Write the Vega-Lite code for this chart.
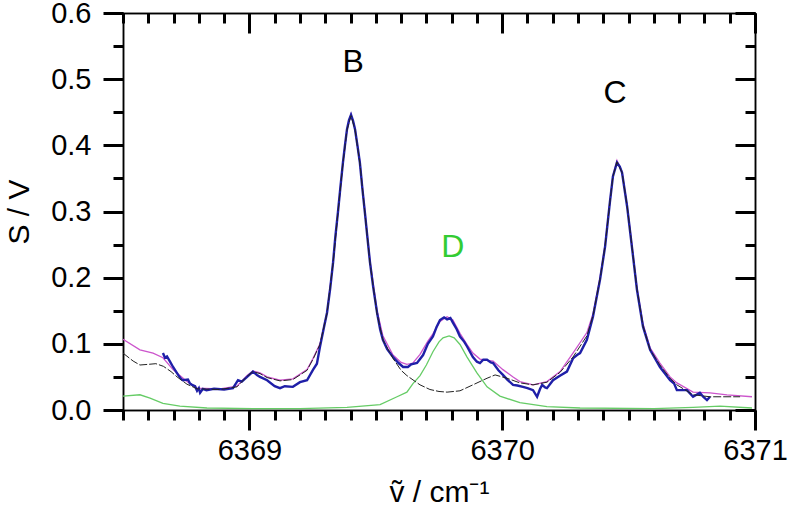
{
  "$schema": "https://vega.github.io/schema/vega-lite/v6.json",
  "width": 632,
  "height": 397,
  "autosize": {"type": "none"},
  "padding": {"left": 123, "top": 13, "right": 33, "bottom": 108},
  "data": {"values": [
    {"s": "D", "x": 6368.500, "y": 0.021}, {"s": "D", "x": 6368.567, "y": 0.023}, {"s": "D", "x": 6368.607, "y": 0.018}, {"s": "D", "x": 6368.658, "y": 0.010},
    {"s": "D", "x": 6368.725, "y": 0.006}, {"s": "D", "x": 6368.832, "y": 0.003}, {"s": "D", "x": 6369.014, "y": 0.002}, {"s": "D", "x": 6369.200, "y": 0.002},
    {"s": "D", "x": 6369.386, "y": 0.004}, {"s": "D", "x": 6369.517, "y": 0.008}, {"s": "D", "x": 6369.584, "y": 0.020}, {"s": "D", "x": 6369.623, "y": 0.027},
    {"s": "D", "x": 6369.647, "y": 0.040}, {"s": "D", "x": 6369.675, "y": 0.052}, {"s": "D", "x": 6369.700, "y": 0.068}, {"s": "D", "x": 6369.726, "y": 0.088},
    {"s": "D", "x": 6369.750, "y": 0.103}, {"s": "D", "x": 6369.766, "y": 0.109}, {"s": "D", "x": 6369.790, "y": 0.112}, {"s": "D", "x": 6369.810, "y": 0.109},
    {"s": "D", "x": 6369.833, "y": 0.099}, {"s": "D", "x": 6369.861, "y": 0.080}, {"s": "D", "x": 6369.900, "y": 0.056}, {"s": "D", "x": 6369.940, "y": 0.035},
    {"s": "D", "x": 6369.991, "y": 0.021}, {"s": "D", "x": 6370.070, "y": 0.011}, {"s": "D", "x": 6370.177, "y": 0.005}, {"s": "D", "x": 6370.308, "y": 0.003},
    {"s": "D", "x": 6370.600, "y": 0.002}, {"s": "D", "x": 6370.755, "y": 0.004}, {"s": "D", "x": 6370.862, "y": 0.006}, {"s": "D", "x": 6370.988, "y": 0.003},

    {"s": "fit", "x": 6368.500, "y": 0.107}, {"s": "fit", "x": 6368.567, "y": 0.091}, {"s": "fit", "x": 6368.619, "y": 0.086}, {"s": "fit", "x": 6368.658, "y": 0.079},
    {"s": "fit", "x": 6368.698, "y": 0.061}, {"s": "fit", "x": 6368.753, "y": 0.043}, {"s": "fit", "x": 6368.793, "y": 0.033}, {"s": "fit", "x": 6368.884, "y": 0.032},
    {"s": "fit", "x": 6368.951, "y": 0.036}, {"s": "fit", "x": 6368.991, "y": 0.052}, {"s": "fit", "x": 6369.014, "y": 0.059}, {"s": "fit", "x": 6369.042, "y": 0.056},
    {"s": "fit", "x": 6369.070, "y": 0.050}, {"s": "fit", "x": 6369.121, "y": 0.045}, {"s": "fit", "x": 6369.172, "y": 0.047}, {"s": "fit", "x": 6369.228, "y": 0.061},
    {"s": "fit", "x": 6369.252, "y": 0.078}, {"s": "fit", "x": 6369.279, "y": 0.100}, {"s": "fit", "x": 6369.307, "y": 0.147}, {"s": "fit", "x": 6369.331, "y": 0.223},
    {"s": "fit", "x": 6369.350, "y": 0.298}, {"s": "fit", "x": 6369.370, "y": 0.374}, {"s": "fit", "x": 6369.386, "y": 0.424}, {"s": "fit", "x": 6369.402, "y": 0.447},
    {"s": "fit", "x": 6369.418, "y": 0.425}, {"s": "fit", "x": 6369.437, "y": 0.375}, {"s": "fit", "x": 6369.457, "y": 0.300}, {"s": "fit", "x": 6369.477, "y": 0.225},
    {"s": "fit", "x": 6369.505, "y": 0.150}, {"s": "fit", "x": 6369.528, "y": 0.112}, {"s": "fit", "x": 6369.568, "y": 0.083}, {"s": "fit", "x": 6369.600, "y": 0.072},
    {"s": "fit", "x": 6369.623, "y": 0.069}, {"s": "fit", "x": 6369.647, "y": 0.071}, {"s": "fit", "x": 6369.675, "y": 0.084}, {"s": "fit", "x": 6369.706, "y": 0.104},
    {"s": "fit", "x": 6369.726, "y": 0.115}, {"s": "fit", "x": 6369.754, "y": 0.134}, {"s": "fit", "x": 6369.782, "y": 0.141}, {"s": "fit", "x": 6369.805, "y": 0.136},
    {"s": "fit", "x": 6369.833, "y": 0.116}, {"s": "fit", "x": 6369.861, "y": 0.099}, {"s": "fit", "x": 6369.884, "y": 0.086}, {"s": "fit", "x": 6369.912, "y": 0.077},
    {"s": "fit", "x": 6369.940, "y": 0.075}, {"s": "fit", "x": 6369.964, "y": 0.074}, {"s": "fit", "x": 6370.003, "y": 0.061}, {"s": "fit", "x": 6370.043, "y": 0.050},
    {"s": "fit", "x": 6370.070, "y": 0.043}, {"s": "fit", "x": 6370.122, "y": 0.038}, {"s": "fit", "x": 6370.177, "y": 0.043}, {"s": "fit", "x": 6370.229, "y": 0.058},
    {"s": "fit", "x": 6370.280, "y": 0.086}, {"s": "fit", "x": 6370.335, "y": 0.117}, {"s": "fit", "x": 6370.359, "y": 0.145}, {"s": "fit", "x": 6370.387, "y": 0.200},
    {"s": "fit", "x": 6370.407, "y": 0.250}, {"s": "fit", "x": 6370.426, "y": 0.315}, {"s": "fit", "x": 6370.438, "y": 0.354}, {"s": "fit", "x": 6370.454, "y": 0.377},
    {"s": "fit", "x": 6370.474, "y": 0.360}, {"s": "fit", "x": 6370.494, "y": 0.310}, {"s": "fit", "x": 6370.513, "y": 0.250}, {"s": "fit", "x": 6370.533, "y": 0.185},
    {"s": "fit", "x": 6370.557, "y": 0.130}, {"s": "fit", "x": 6370.585, "y": 0.094}, {"s": "fit", "x": 6370.624, "y": 0.071}, {"s": "fit", "x": 6370.664, "y": 0.050},
    {"s": "fit", "x": 6370.691, "y": 0.041}, {"s": "fit", "x": 6370.755, "y": 0.027}, {"s": "fit", "x": 6370.822, "y": 0.026}, {"s": "fit", "x": 6370.889, "y": 0.023},
    {"s": "fit", "x": 6370.988, "y": 0.020},

    {"s": "data", "x": 6368.658, "y": 0.086}, {"s": "data", "x": 6368.666, "y": 0.079}, {"s": "data", "x": 6368.674, "y": 0.081}, {"s": "data", "x": 6368.686, "y": 0.073},
    {"s": "data", "x": 6368.698, "y": 0.065}, {"s": "data", "x": 6368.718, "y": 0.053}, {"s": "data", "x": 6368.730, "y": 0.047}, {"s": "data", "x": 6368.737, "y": 0.045},
    {"s": "data", "x": 6368.757, "y": 0.046}, {"s": "data", "x": 6368.765, "y": 0.040}, {"s": "data", "x": 6368.773, "y": 0.038}, {"s": "data", "x": 6368.785, "y": 0.036},
    {"s": "data", "x": 6368.793, "y": 0.029}, {"s": "data", "x": 6368.800, "y": 0.033}, {"s": "data", "x": 6368.805, "y": 0.026}, {"s": "data", "x": 6368.816, "y": 0.032},
    {"s": "data", "x": 6368.830, "y": 0.030}, {"s": "data", "x": 6368.860, "y": 0.032}, {"s": "data", "x": 6368.900, "y": 0.031}, {"s": "data", "x": 6368.935, "y": 0.033},
    {"s": "data", "x": 6368.955, "y": 0.045}, {"s": "data", "x": 6368.970, "y": 0.043}, {"s": "data", "x": 6368.991, "y": 0.050}, {"s": "data", "x": 6369.014, "y": 0.058},
    {"s": "data", "x": 6369.030, "y": 0.053}, {"s": "data", "x": 6369.042, "y": 0.050}, {"s": "data", "x": 6369.070, "y": 0.045}, {"s": "data", "x": 6369.100, "y": 0.036},
    {"s": "data", "x": 6369.121, "y": 0.033}, {"s": "data", "x": 6369.140, "y": 0.036}, {"s": "data", "x": 6369.172, "y": 0.035}, {"s": "data", "x": 6369.200, "y": 0.042},
    {"s": "data", "x": 6369.228, "y": 0.045}, {"s": "data", "x": 6369.252, "y": 0.061}, {"s": "data", "x": 6369.267, "y": 0.070}, {"s": "data", "x": 6369.279, "y": 0.095},
    {"s": "data", "x": 6369.295, "y": 0.125}, {"s": "data", "x": 6369.307, "y": 0.147}, {"s": "data", "x": 6369.320, "y": 0.185}, {"s": "data", "x": 6369.331, "y": 0.223},
    {"s": "data", "x": 6369.340, "y": 0.262}, {"s": "data", "x": 6369.350, "y": 0.298}, {"s": "data", "x": 6369.360, "y": 0.337}, {"s": "data", "x": 6369.370, "y": 0.374},
    {"s": "data", "x": 6369.378, "y": 0.400}, {"s": "data", "x": 6369.386, "y": 0.424}, {"s": "data", "x": 6369.394, "y": 0.438}, {"s": "data", "x": 6369.402, "y": 0.446},
    {"s": "data", "x": 6369.410, "y": 0.437}, {"s": "data", "x": 6369.418, "y": 0.424}, {"s": "data", "x": 6369.428, "y": 0.398}, {"s": "data", "x": 6369.437, "y": 0.374},
    {"s": "data", "x": 6369.447, "y": 0.334}, {"s": "data", "x": 6369.457, "y": 0.298}, {"s": "data", "x": 6369.467, "y": 0.260}, {"s": "data", "x": 6369.477, "y": 0.223},
    {"s": "data", "x": 6369.490, "y": 0.185}, {"s": "data", "x": 6369.505, "y": 0.147}, {"s": "data", "x": 6369.517, "y": 0.122}, {"s": "data", "x": 6369.528, "y": 0.106},
    {"s": "data", "x": 6369.545, "y": 0.092}, {"s": "data", "x": 6369.568, "y": 0.080}, {"s": "data", "x": 6369.590, "y": 0.071}, {"s": "data", "x": 6369.608, "y": 0.065},
    {"s": "data", "x": 6369.627, "y": 0.065}, {"s": "data", "x": 6369.640, "y": 0.069}, {"s": "data", "x": 6369.663, "y": 0.071}, {"s": "data", "x": 6369.687, "y": 0.083},
    {"s": "data", "x": 6369.706, "y": 0.100}, {"s": "data", "x": 6369.726, "y": 0.111}, {"s": "data", "x": 6369.740, "y": 0.125}, {"s": "data", "x": 6369.754, "y": 0.136},
    {"s": "data", "x": 6369.770, "y": 0.140}, {"s": "data", "x": 6369.782, "y": 0.137}, {"s": "data", "x": 6369.795, "y": 0.139}, {"s": "data", "x": 6369.805, "y": 0.132},
    {"s": "data", "x": 6369.820, "y": 0.122}, {"s": "data", "x": 6369.833, "y": 0.111}, {"s": "data", "x": 6369.850, "y": 0.103}, {"s": "data", "x": 6369.861, "y": 0.096},
    {"s": "data", "x": 6369.884, "y": 0.080}, {"s": "data", "x": 6369.900, "y": 0.073}, {"s": "data", "x": 6369.912, "y": 0.071}, {"s": "data", "x": 6369.925, "y": 0.076},
    {"s": "data", "x": 6369.940, "y": 0.076}, {"s": "data", "x": 6369.955, "y": 0.072}, {"s": "data", "x": 6369.964, "y": 0.071}, {"s": "data", "x": 6369.985, "y": 0.060},
    {"s": "data", "x": 6370.003, "y": 0.053}, {"s": "data", "x": 6370.020, "y": 0.046}, {"s": "data", "x": 6370.043, "y": 0.038}, {"s": "data", "x": 6370.060, "y": 0.037},
    {"s": "data", "x": 6370.082, "y": 0.035}, {"s": "data", "x": 6370.100, "y": 0.033}, {"s": "data", "x": 6370.122, "y": 0.030}, {"s": "data", "x": 6370.138, "y": 0.020},
    {"s": "data", "x": 6370.150, "y": 0.032}, {"s": "data", "x": 6370.158, "y": 0.038}, {"s": "data", "x": 6370.170, "y": 0.034}, {"s": "data", "x": 6370.177, "y": 0.033},
    {"s": "data", "x": 6370.201, "y": 0.045}, {"s": "data", "x": 6370.230, "y": 0.052}, {"s": "data", "x": 6370.256, "y": 0.058}, {"s": "data", "x": 6370.280, "y": 0.078},
    {"s": "data", "x": 6370.296, "y": 0.083}, {"s": "data", "x": 6370.308, "y": 0.086}, {"s": "data", "x": 6370.335, "y": 0.106}, {"s": "data", "x": 6370.359, "y": 0.141},
    {"s": "data", "x": 6370.387, "y": 0.197}, {"s": "data", "x": 6370.407, "y": 0.247}, {"s": "data", "x": 6370.426, "y": 0.314}, {"s": "data", "x": 6370.438, "y": 0.353},
    {"s": "data", "x": 6370.454, "y": 0.374}, {"s": "data", "x": 6370.465, "y": 0.368}, {"s": "data", "x": 6370.474, "y": 0.359}, {"s": "data", "x": 6370.494, "y": 0.308},
    {"s": "data", "x": 6370.513, "y": 0.247}, {"s": "data", "x": 6370.533, "y": 0.182}, {"s": "data", "x": 6370.557, "y": 0.126}, {"s": "data", "x": 6370.585, "y": 0.091},
    {"s": "data", "x": 6370.624, "y": 0.065}, {"s": "data", "x": 6370.664, "y": 0.045}, {"s": "data", "x": 6370.680, "y": 0.040}, {"s": "data", "x": 6370.691, "y": 0.030},
    {"s": "data", "x": 6370.731, "y": 0.030}, {"s": "data", "x": 6370.755, "y": 0.020}, {"s": "data", "x": 6370.782, "y": 0.026}, {"s": "data", "x": 6370.795, "y": 0.020},
    {"s": "data", "x": 6370.810, "y": 0.015}, {"s": "data", "x": 6370.822, "y": 0.020},

    {"s": "bc", "x": 6368.500, "y": 0.086}, {"s": "bc", "x": 6368.540, "y": 0.074}, {"s": "bc", "x": 6368.567, "y": 0.068}, {"s": "bc", "x": 6368.600, "y": 0.069},
    {"s": "bc", "x": 6368.630, "y": 0.070}, {"s": "bc", "x": 6368.660, "y": 0.066}, {"s": "bc", "x": 6368.690, "y": 0.058}, {"s": "bc", "x": 6368.714, "y": 0.050},
    {"s": "bc", "x": 6368.753, "y": 0.039}, {"s": "bc", "x": 6368.793, "y": 0.032}, {"s": "bc", "x": 6368.884, "y": 0.031}, {"s": "bc", "x": 6368.951, "y": 0.035},
    {"s": "bc", "x": 6368.991, "y": 0.051}, {"s": "bc", "x": 6369.014, "y": 0.058}, {"s": "bc", "x": 6369.042, "y": 0.055}, {"s": "bc", "x": 6369.070, "y": 0.049},
    {"s": "bc", "x": 6369.121, "y": 0.044}, {"s": "bc", "x": 6369.172, "y": 0.046}, {"s": "bc", "x": 6369.228, "y": 0.060}, {"s": "bc", "x": 6369.252, "y": 0.077},
    {"s": "bc", "x": 6369.279, "y": 0.099}, {"s": "bc", "x": 6369.307, "y": 0.146}, {"s": "bc", "x": 6369.331, "y": 0.222}, {"s": "bc", "x": 6369.350, "y": 0.297},
    {"s": "bc", "x": 6369.370, "y": 0.373}, {"s": "bc", "x": 6369.386, "y": 0.423}, {"s": "bc", "x": 6369.402, "y": 0.445}, {"s": "bc", "x": 6369.418, "y": 0.423},
    {"s": "bc", "x": 6369.437, "y": 0.373}, {"s": "bc", "x": 6369.457, "y": 0.297}, {"s": "bc", "x": 6369.477, "y": 0.222}, {"s": "bc", "x": 6369.505, "y": 0.145},
    {"s": "bc", "x": 6369.528, "y": 0.106}, {"s": "bc", "x": 6369.568, "y": 0.078}, {"s": "bc", "x": 6369.600, "y": 0.060}, {"s": "bc", "x": 6369.623, "y": 0.052},
    {"s": "bc", "x": 6369.675, "y": 0.038}, {"s": "bc", "x": 6369.714, "y": 0.031}, {"s": "bc", "x": 6369.750, "y": 0.028}, {"s": "bc", "x": 6369.782, "y": 0.027},
    {"s": "bc", "x": 6369.833, "y": 0.029}, {"s": "bc", "x": 6369.884, "y": 0.038}, {"s": "bc", "x": 6369.940, "y": 0.048}, {"s": "bc", "x": 6369.972, "y": 0.053},
    {"s": "bc", "x": 6370.019, "y": 0.048}, {"s": "bc", "x": 6370.070, "y": 0.041}, {"s": "bc", "x": 6370.122, "y": 0.038}, {"s": "bc", "x": 6370.177, "y": 0.042},
    {"s": "bc", "x": 6370.229, "y": 0.057}, {"s": "bc", "x": 6370.280, "y": 0.080}, {"s": "bc", "x": 6370.335, "y": 0.112}, {"s": "bc", "x": 6370.359, "y": 0.142},
    {"s": "bc", "x": 6370.387, "y": 0.198}, {"s": "bc", "x": 6370.407, "y": 0.248}, {"s": "bc", "x": 6370.426, "y": 0.314}, {"s": "bc", "x": 6370.438, "y": 0.353},
    {"s": "bc", "x": 6370.454, "y": 0.375}, {"s": "bc", "x": 6370.474, "y": 0.359}, {"s": "bc", "x": 6370.494, "y": 0.309}, {"s": "bc", "x": 6370.513, "y": 0.248},
    {"s": "bc", "x": 6370.533, "y": 0.183}, {"s": "bc", "x": 6370.557, "y": 0.127}, {"s": "bc", "x": 6370.585, "y": 0.091}, {"s": "bc", "x": 6370.624, "y": 0.068},
    {"s": "bc", "x": 6370.664, "y": 0.048}, {"s": "bc", "x": 6370.691, "y": 0.038}, {"s": "bc", "x": 6370.755, "y": 0.023}, {"s": "bc", "x": 6370.822, "y": 0.020},
    {"s": "bc", "x": 6370.941, "y": 0.020},

    {"s": "label", "label": "B", "x": 6369.41, "y": 0.526},
    {"s": "label", "label": "C", "x": 6370.446, "y": 0.479},
    {"s": "label", "label": "D", "x": 6369.805, "y": 0.247}
  ]},
  "layer": [
    {
      "transform": [{"filter": "datum.s === 'D'"}],
      "mark": {"type": "line", "color": "#66cc66", "strokeWidth": 1.3, "clip": true},
      "encoding": {
        "x": {"field": "x", "type": "quantitative",
          "scale": {"domain": [6368.5, 6371], "nice": false, "zero": false},
          "axis": {"orient": "bottom", "values": [6369, 6370, 6371], "format": "d", "gridOpacity": 0,
            "domainColor": "black", "domainWidth": 1.5, "tickColor": "black", "tickWidth": 3, "tickSize": 20,
            "labelFont": "Liberation Sans", "labelFontSize": 29, "labelColor": "black", "labelFlush": false, "labelPadding": 6,
            "title": "ṽ / cm⁻¹", "titleFont": "Liberation Sans", "titleFontSize": 30, "titleFontWeight": "normal", "titleColor": "black", "titlePadding": 12}},
        "y": {"field": "y", "type": "quantitative",
          "scale": {"domain": [0, 0.6], "nice": false, "zero": false},
          "axis": {"orient": "left", "values": [0, 0.1, 0.2, 0.3, 0.4, 0.5, 0.6], "format": ".1f", "gridOpacity": 0,
            "domainColor": "black", "domainWidth": 1.5, "tickColor": "black", "tickWidth": 3, "tickSize": 20,
            "labelFont": "Liberation Sans", "labelFontSize": 29, "labelColor": "black", "labelPadding": 12,
            "title": "S / V", "titleFont": "Liberation Sans", "titleFontSize": 30, "titleFontWeight": "normal", "titleColor": "black", "titlePadding": 16}}
      }
    },
    {
      "transform": [{"filter": "datum.s === 'fit'"}],
      "mark": {"type": "line", "color": "#cc55cc", "strokeWidth": 1.3, "clip": true},
      "encoding": {
        "x": {"field": "x", "type": "quantitative",
          "axis": {"orient": "bottom", "values": [6368.5, 6368.6, 6368.7, 6368.8, 6368.9, 6369.0, 6369.1, 6369.2, 6369.3, 6369.4, 6369.5, 6369.6, 6369.7, 6369.8, 6369.9, 6370.0, 6370.1, 6370.2, 6370.3, 6370.4, 6370.5, 6370.6, 6370.7, 6370.8, 6370.9, 6371.0],
            "gridOpacity": 0, "domainColor": "black", "domainWidth": 1.5, "tickColor": "black", "tickWidth": 3, "tickSize": 10, "labels": false, "title": null}},
        "y": {"field": "y", "type": "quantitative",
          "axis": {"orient": "left", "values": [0, 0.05, 0.1, 0.15, 0.2, 0.25, 0.3, 0.35, 0.4, 0.45, 0.5, 0.55, 0.6],
            "gridOpacity": 0, "domainColor": "black", "domainWidth": 1.5, "tickColor": "black", "tickWidth": 3, "tickSize": 10, "labels": false, "title": null}}
      }
    },
    {
      "transform": [{"filter": "datum.s === 'data'"}],
      "mark": {"type": "line", "color": "#1f1fa8", "strokeWidth": 2.4, "clip": true},
      "encoding": {
        "x": {"field": "x", "type": "quantitative",
          "axis": {"orient": "top", "values": [6369, 6370, 6371], "gridOpacity": 0, "domainColor": "black", "domainWidth": 1.5, "tickColor": "black", "tickWidth": 3, "tickSize": -20, "labels": false, "title": null}},
        "y": {"field": "y", "type": "quantitative",
          "axis": {"orient": "right", "values": [0, 0.1, 0.2, 0.3, 0.4, 0.5, 0.6], "gridOpacity": 0, "domainColor": "black", "domainWidth": 1.5, "tickColor": "black", "tickWidth": 3, "tickSize": -20, "labels": false, "title": null}}
      }
    },
    {
      "transform": [{"filter": "datum.s === 'bc'"}],
      "mark": {"type": "line", "color": "#222222", "strokeWidth": 1, "strokeDash": [8, 2], "clip": true},
      "encoding": {
        "x": {"field": "x", "type": "quantitative",
          "axis": {"orient": "top", "values": [6368.5, 6368.6, 6368.7, 6368.8, 6368.9, 6369.0, 6369.1, 6369.2, 6369.3, 6369.4, 6369.5, 6369.6, 6369.7, 6369.8, 6369.9, 6370.0, 6370.1, 6370.2, 6370.3, 6370.4, 6370.5, 6370.6, 6370.7, 6370.8, 6370.9, 6371.0],
            "gridOpacity": 0, "domainColor": "black", "domainWidth": 1.5, "tickColor": "black", "tickWidth": 3, "tickSize": -10, "labels": false, "title": null}},
        "y": {"field": "y", "type": "quantitative",
          "axis": {"orient": "right", "values": [0, 0.05, 0.1, 0.15, 0.2, 0.25, 0.3, 0.35, 0.4, 0.45, 0.5, 0.55, 0.6],
            "gridOpacity": 0, "domainColor": "black", "domainWidth": 1.5, "tickColor": "black", "tickWidth": 3, "tickSize": -10, "labels": false, "title": null}}
      }
    },
    {
      "transform": [{"filter": "datum.s === 'label'"}],
      "mark": {"type": "text", "font": "Liberation Sans", "fontSize": 32, "align": "center", "baseline": "middle"},
      "encoding": {
        "x": {"field": "x", "type": "quantitative", "axis": null},
        "y": {"field": "y", "type": "quantitative", "axis": null},
        "text": {"field": "label"},
        "color": {"field": "label", "type": "nominal", "scale": {"domain": ["B", "C", "D"], "range": ["#000000", "#000000", "#33cc33"]}, "legend": null}
      }
    }
  ],
  "resolve": {"axis": {"x": "independent", "y": "independent"}}
}
